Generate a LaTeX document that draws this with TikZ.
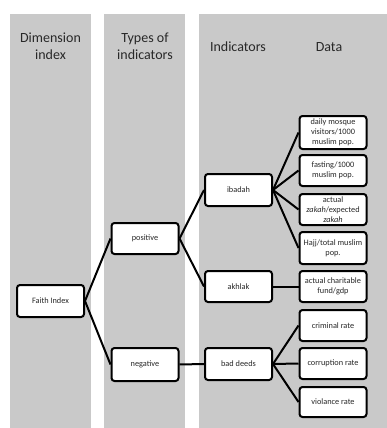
\documentclass[tikz,border=0pt]{standalone}
\usepackage{fontspec}
\setmainfont{Carlito}
\definecolor{bandgray}{RGB}{201,201,201}
\definecolor{inkgray}{RGB}{40,40,40}
\begin{document}
\begin{tikzpicture}[x=1pt,y=-1pt,
  band/.style={fill=bandgray,draw=none},
  head/.style={font=\fontsize{14}{17}\selectfont,text=inkgray,align=center,inner sep=0pt},
  box/.style={draw=black,fill=white,line width=2pt,rounded corners=3pt,
    font=\fontsize{8.3}{10}\selectfont,text=inkgray,align=center,inner sep=1pt,
    minimum width=67pt},
  link/.style={line width=2pt,draw=black}
]
\useasboundingbox (0,0) rectangle (387,428);
% column bands
\fill[band] (10,14) rectangle (91,428);
\fill[band] (104,14) rectangle (185,428);
\fill[band] (199,14) rectangle (387,428);
% column headings
\node[head] (h1) at (50.5,46.5) {Dimension\\index};
\node[head] (h2) at (145,46.5) {Types of\\indicators};
\node[head] (h3) at (238,47) {Indicators};
\node[head] (h4) at (329,47) {Data};
% hierarchy
\node[box,minimum height=32pt] (faith) at (50.5,301) {Faith Index};
\node[box,minimum height=31pt] (pos) at (145,238.5) {positive};
\node[box,minimum height=33pt] (neg) at (145,364.5) {negative};
\node[box,minimum height=32pt] (ibadah) at (238.5,190) {ibadah};
\node[box,minimum height=31pt] (akhlak) at (238.5,286.5) {akhlak};
\node[box,minimum height=32pt] (bad) at (238.5,364) {bad deeds};
% data boxes
\node[box,minimum height=33pt] (d1) at (333,132.5) {daily mosque\\visitors/1000\\muslim pop.};
\node[box,minimum height=31pt] (d2) at (333,170.5) {fasting/1000\\muslim pop.};
\node[box,minimum height=31pt] (d3) at (333,209.5) {actual\\\textit{zakah}/expected\\\textit{zakah}};
\node[box,minimum height=32pt] (d4) at (333,248) {Hajj/total muslim\\pop.};
\node[box,minimum height=31pt] (d5) at (333,286.5) {actual charitable\\fund/gdp};
\node[box,minimum height=31pt] (d6) at (333,325.5) {criminal rate};
\node[box,minimum height=31pt] (d7) at (333,363.5) {corruption rate};
\node[box,minimum height=30pt] (d8) at (333,402) {violance rate};
% connectors
\draw[link] (faith.east) -- (pos.west);
\draw[link] (faith.east) -- (neg.west);
\draw[link] (pos.east) -- (ibadah.west);
\draw[link] (pos.east) -- (akhlak.west);
\draw[link] (neg.east) -- (bad.west);
\foreach \d in {d1,d2,d3,d4} \draw[link] (ibadah.east) -- (\d.west);
\draw[link] (akhlak.east) -- (d5.west);
\foreach \d in {d6,d7,d8} \draw[link] (bad.east) -- (\d.west);
\end{tikzpicture}
\end{document}
